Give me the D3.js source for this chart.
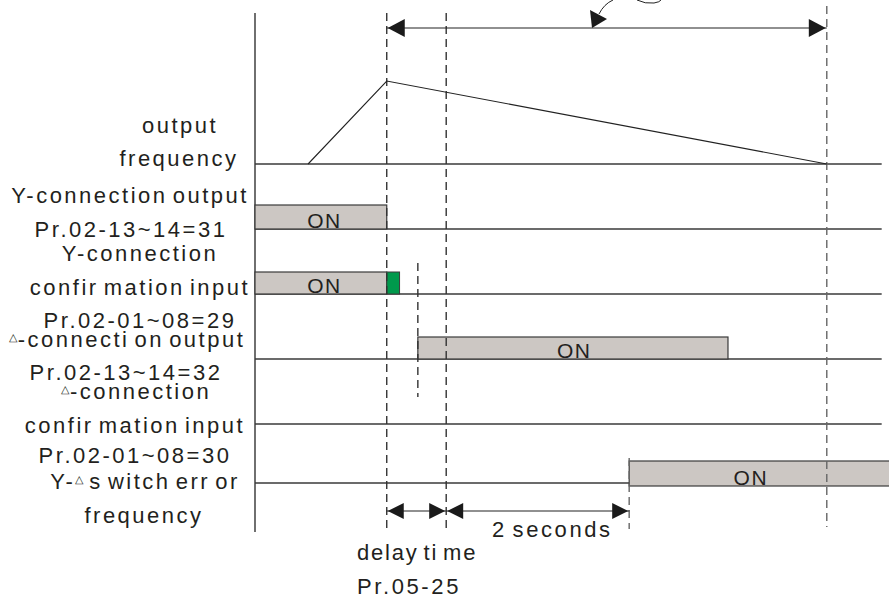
<!DOCTYPE html>
<html><head><meta charset="utf-8">
<script src="https://cdn.jsdelivr.net/npm/d3@7/dist/d3.min.js"></script>
<style>
html,body{margin:0;padding:0;background:#fff;}
svg{display:block;}
text{font-family:"Liberation Sans",Arial,sans-serif;fill:#231f20;}
</style></head>
<body>
<script>
// ---- data (time in seconds) ----
const rows = ["freq", "yOut", "yConf", "dOut", "dConf", "err"];
const rowLabels = [
  ["output", "frequency"],
  ["Y-connection output", "Pr.02-13~14=31"],
  ["Y-connection", "confir mation input", "Pr.02-01~08=29"],
  ["\u25B3-connecti on output", "Pr.02-13~14=32"],
  ["\u25B3-connection", "confir mation input", "Pr.02-01~08=30"],
  ["Y-\u25B3 s witch err or", "frequency"]
];
const eventNames = ["rampStart", "peak", "confirm", "deltaOn", "delayEnd", "error", "deltaOff", "stop"];
const eventTimes = [0.58, 1.44, 1.58, 1.78, 2.09, 4.09, 5.17, 6.25];
const freqTimes = [0.58, 1.44, 6.25];
const freqValues = [0, 1, 0];
const onRows = ["yOut", "yConf", "dOut", "err"];
const onStart = [0, 0, 1.78, 4.09];
const onEnd = [1.44, 1.44, 5.17, 7.2];
const confirmPulse = [1.44, 1.58];
const spanStarts = [1.44, 1.44, 2.09];
const spanEnds = [6.25, 2.09, 4.09];
const bottomTexts = ["delay ti me", "Pr.05-25", "2 seconds"];

// ---- layout ----
const W = 889, H = 601;
const svg = d3.select("body").append("svg").attr("width", W).attr("height", H);
const ev = Object.fromEntries(eventNames.map((n, i) => [n, eventTimes[i]]));
const x = d3.scaleLinear().domain([0, 6.93]).range([255, 889]);
const rowY = d3.scaleOrdinal().domain(rows).range([164, 229, 294, 359, 424, 483]);
const blockH = d3.scaleOrdinal().domain(rows).range([0, 24, 22, 22, 22, 25]);
const blockDy = d3.scaleOrdinal().domain(rows).range([0, 0, 0, 0, 0, 3]);
const fy = d3.scaleLinear().domain([0, 1]).range([164, 81]);
const stroke = "#3a3a3a";

// axis
svg.append("line").attr("x1", x(0)).attr("x2", x(0)).attr("y1", 13).attr("y2", 532)
  .attr("stroke", "#222").attr("stroke-width", 1.3);

// baselines
const baseEnd = {freq: 6.85, yOut: 6.85, yConf: 6.85, dOut: 6.85, dConf: 6.85, err: ev.error};
svg.selectAll(".base").data(rows).join("line")
  .attr("x1", x(0)).attr("x2", d => x(baseEnd[d]))
  .attr("y1", d => rowY(d)).attr("y2", d => rowY(d))
  .attr("stroke", stroke).attr("stroke-width", 1.3);

// ON blocks
const onData = onRows.map((r, i) => ({r, s: onStart[i], e: onEnd[i]}));
svg.selectAll(".blk").data(onData).join("rect")
  .attr("x", d => x(d.s)).attr("width", d => x(d.e) - x(d.s))
  .attr("y", d => rowY(d.r) + blockDy(d.r) - blockH(d.r)).attr("height", d => blockH(d.r))
  .attr("fill", "#ccc7c3").attr("stroke", stroke).attr("stroke-width", 1.2);
// green confirmation pulse
svg.append("rect").attr("x", x(confirmPulse[0])).attr("width", x(confirmPulse[1]) - x(confirmPulse[0]))
  .attr("y", rowY("yConf") - blockH("yConf")).attr("height", blockH("yConf"))
  .attr("fill", "#00994c").attr("stroke", stroke).attr("stroke-width", 1);

// ON labels
const onLabelT = [0.76, 0.76, 3.49, 5.42];
svg.selectAll(".onl").data(onData).join("text")
  .attr("x", (d, i) => x(onLabelT[i])).attr("y", d => rowY(d.r) + blockDy(d.r) - 1)
  .attr("text-anchor", "middle").attr("font-size", 21).attr("letter-spacing", 1.5).text("ON");

// dashed lines
const dashes = [
  {t: ev.peak, y1: 13, y2: 532, c: "#333"},
  {t: ev.delayEnd, y1: 13, y2: 531, c: "#333"},
  {t: ev.deltaOn, y1: 263, y2: 397, c: "#333"},
  {t: ev.error, y1: 458, y2: 529, c: "#666"},
  {t: ev.stop, y1: 6, y2: 527, c: "#666"}
];
svg.selectAll(".dash").data(dashes).join("line")
  .attr("x1", d => x(d.t)).attr("x2", d => x(d.t)).attr("y1", d => d.y1).attr("y2", d => d.y2)
  .attr("stroke", d => d.c).attr("stroke-width", 1.4).attr("stroke-dasharray", "8,5");

// frequency curve
svg.append("path")
  .datum(freqTimes.map((t, i) => [t, freqValues[i]]))
  .attr("d", d3.line().x(d => x(d[0])).y(d => fy(d[1])))
  .attr("fill", "none").attr("stroke", "#222").attr("stroke-width", 1.1);

// arrows
function arrowHead(xTip, y, dir, len, half) {
  svg.append("path")
    .attr("d", `M${xTip},${y} L${xTip - dir * len},${y - half} L${xTip - dir * len},${y + half} Z`)
    .attr("fill", "#1a1a1a");
}
const spanY = [28, 511, 511];
spanStarts.forEach((s, i) => {
  const y = spanY[i];
  svg.append("line").attr("x1", x(s)).attr("x2", x(spanEnds[i])).attr("y1", y).attr("y2", y)
    .attr("stroke", "#222").attr("stroke-width", 1.2);
  const len = i === 0 ? 17 : 16, half = i === 0 ? 9 : 8;
  arrowHead(x(s) + 1, y, -1, len, half);
  arrowHead(x(spanEnds[i]) - 1, y, 1, len, half);
});

// curved leader (cut at top)
svg.append("path").attr("d", "M599,14 Q604,4 613,0").attr("fill", "none").attr("stroke", "#222").attr("stroke-width", 1);
svg.append("path").attr("d", "M590,10 L607,19 L592,28 Z").attr("fill", "#1a1a1a");
svg.append("path").attr("d", "M637,0 Q645,4 654,3 Q660,2 661,0").attr("fill", "none").attr("stroke", "#222").attr("stroke-width", 1);

// row labels (layout offsets relative to each row baseline)
const labelDy = [[-31, 2], [-26, 8], [-33, 1, 34], [-12, 21], [-25, 9, 39], [6, 40]];
const labelCx = [[180, 179], [130, 131], [140, 140, 140], [127, 126], [136, 135, 135], [145, 144]];
const g = svg.append("g");
rowLabels.forEach((lines, ri) => {
  lines.forEach((txt, li) => {
    const t = g.append("text").attr("x", labelCx[ri][li]).attr("y", rowY(rows[ri]) + labelDy[ri][li])
      .attr("text-anchor", "middle").attr("font-size", 22).attr("letter-spacing", 2.5)
      .attr("word-spacing", -3.5);
    const parts = txt.split("\u25B3");
    parts.forEach((p, pi) => {
      if (pi > 0) {
        t.append("tspan").attr("font-size", 11).attr("dy", -6).attr("letter-spacing", 1).text("\u25B3");
        t.append("tspan").attr("dy", 6).text(p);
      } else if (p.length) {
        t.append("tspan").text(p);
      }
    });
  });
});

// bottom texts
const bottomX = [357, 357, 492];
const bottomY = [560, 594, 537];
const bottomLs = [1.8, 2.6, 2.6];
svg.selectAll(".bt").data(bottomTexts).join("text")
  .attr("x", (d, i) => bottomX[i]).attr("y", (d, i) => bottomY[i])
  .attr("font-size", 22).attr("letter-spacing", (d, i) => bottomLs[i])
  .attr("word-spacing", -3).text(d => d);
</script>
</body></html>
